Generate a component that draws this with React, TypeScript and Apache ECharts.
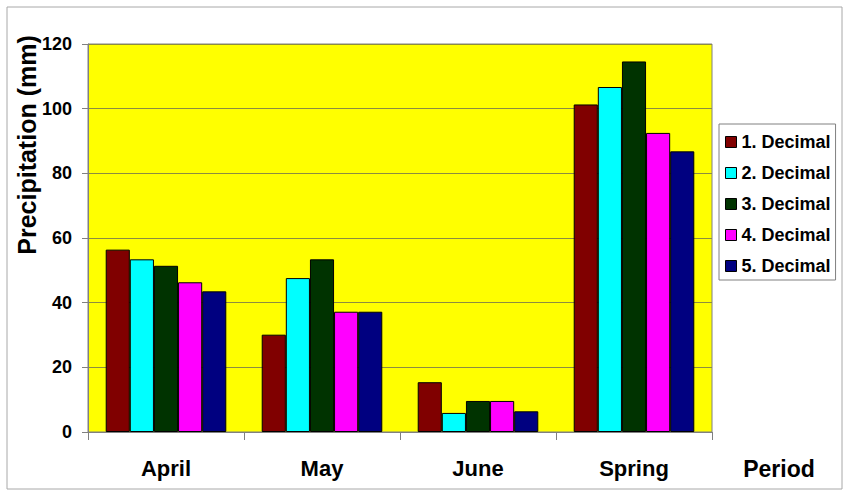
import React, { useEffect, useRef } from "react";
import * as echarts from "echarts";

const categories = ["April", "May", "June", "Spring"];
const axisName = "Period";
const seriesNames = ["1. Decimal", "2. Decimal", "3. Decimal", "4. Decimal", "5. Decimal"];
const decimal1 = [56.4, 30.1, 15.4, 101.3];
const decimal2 = [53.4, 47.6, 5.9, 106.7];
const decimal3 = [51.4, 53.4, 9.6, 114.6];
const decimal4 = [46.3, 37.2, 9.6, 92.5];
const decimal5 = [43.5, 37.2, 6.4, 86.8];
const seriesValues = [decimal1, decimal2, decimal3, decimal4, decimal5];
const seriesColors = ["#800000", "#00ffff", "#003300", "#ff00ff", "#000080"];

const FONT = '"Liberation Sans", Arial, sans-serif';

export default function App() {
  const ref = useRef<HTMLDivElement>(null);
  useEffect(() => {
    document.body.style.margin = "0";
    if (!ref.current) return;
    const chart = echarts.init(ref.current, null, { renderer: "svg" });
    chart.setOption({
      animation: false,
      backgroundColor: "#ffffff",
      textStyle: { fontFamily: FONT },
      grid: {
        left: 88,
        top: 44,
        right: 138,
        bottom: 65,
        show: true,
        backgroundColor: "#ffff00",
        borderColor: "#808080",
        borderWidth: 1,
      },
      legend: {
        orient: "vertical",
        left: 719,
        top: 124,
        padding: [9, 5, 5, 6],
        itemWidth: 11,
        itemHeight: 11,
        itemGap: 13,
        icon: "rect",
        borderColor: "#808080",
        borderWidth: 1,
        backgroundColor: "#ffffff",
        itemStyle: { borderColor: "#000000", borderWidth: 1 },
        textStyle: { fontFamily: FONT, fontWeight: "bold", fontSize: 18, color: "#000" },
        data: seriesNames,
      },
      xAxis: {
        type: "category",
        data: categories,
        axisLine: { lineStyle: { color: "#808080", width: 1 } },
        axisTick: { show: true, length: 8, lineStyle: { color: "#808080" } },
        axisLabel: { fontFamily: FONT, fontWeight: "bold", fontSize: 22, color: "#000", margin: 25 },
        splitLine: { show: false },
      },
      yAxis: {
        type: "value",
        min: 0,
        max: 120,
        interval: 20,
        axisLine: { show: true, lineStyle: { color: "#808080", width: 1 } },
        axisTick: { show: true, length: 6, lineStyle: { color: "#808080" } },
        axisLabel: { fontFamily: FONT, fontWeight: "bold", fontSize: 18, color: "#000", margin: 16 },
        splitLine: { show: true, lineStyle: { color: "#8c8c40", width: 1 } },
      },
      graphic: [
        {
          type: "rect",
          shape: { x: 7, y: 7, width: 835, height: 482 },
          style: { fill: "none", stroke: "#a8a8a8", lineWidth: 1 },
          silent: true,
        },
        {
          type: "text",
          x: 27,
          y: 145,
          rotation: Math.PI / 2,
          style: {
            text: "Precipitation (mm)",
            fontFamily: FONT,
            fontWeight: "bold",
            fontSize: 25,
            fill: "#000",
            textAlign: "center",
            textVerticalAlign: "middle",
          },
        },
        {
          type: "text",
          x: 779,
          y: 469,
          style: {
            text: axisName,
            fontFamily: FONT,
            fontWeight: "bold",
            fontSize: 23,
            fill: "#000",
            textAlign: "center",
            textVerticalAlign: "middle",
          },
        },
      ],
      series: seriesNames.map((name, i) => ({
        name,
        type: "bar",
        data: seriesValues[i],
        barGap: "0%",
        barCategoryGap: "22.7%",
        itemStyle: { color: seriesColors[i], borderColor: "#000000", borderWidth: 1 },
      })),
    });
    return () => chart.dispose();
  }, []);
  return <div ref={ref} style={{ width: 850, height: 497 }} />;
}
